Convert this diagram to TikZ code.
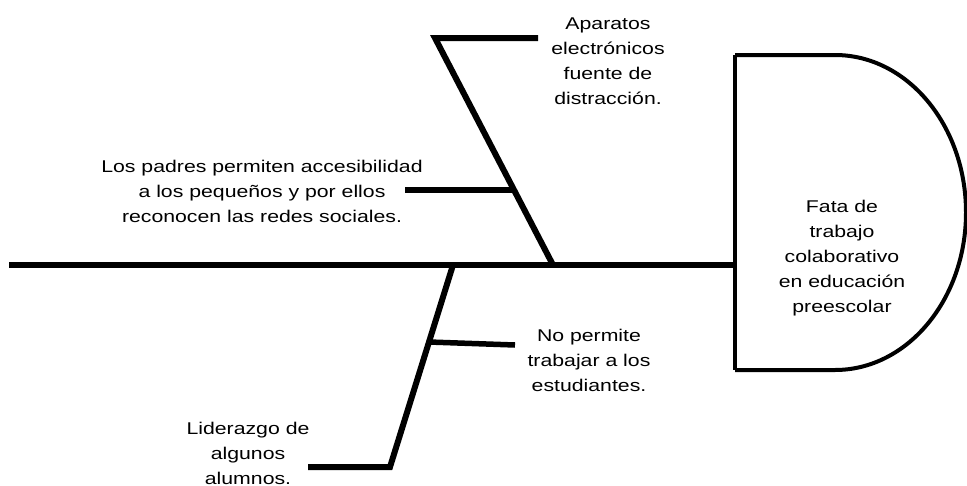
\documentclass[tikz,border=0pt]{standalone}
\usepackage{fontspec}
\setmainfont{Liberation Sans}[FakeStretch=1.25]
\usetikzlibrary{positioning}

\begin{document}
\begin{tikzpicture}[x=1pt, y=-1pt]
\tikzstyle{bone}=[line width=6pt]
\tikzstyle{rib}=[line width=5.5pt]
\tikzstyle{head}=[line width=4pt]
\tikzstyle{cause}=[align=center, inner sep=0pt, font=\fontsize{17}{25}\selectfont]
\useasboundingbox (0,0) rectangle (967,485);
    % spine
    \coordinate (tail) at (9,265);
    \coordinate (neck) at (735,265);
    \coordinate (headtop) at (735,55);
    \coordinate (headbot) at (735,370);
    % upper bone
    \coordinate (upfoot) at (553,265);
    \coordinate (upknee) at (435,38);
    \coordinate (uptip) at (538,38);
    \coordinate (uprib) at (514,190);
    \coordinate (upribend) at (405,190);
    % lower bone
    \coordinate (lofoot) at (453,265);
    \coordinate (loknee) at (390,467);
    \coordinate (lotip) at (308,467);
    \coordinate (lorib) at (429,342);
    \coordinate (loribend) at (515,345);
    \node[cause] (efecto) at (842,258) {Fata de\\trabajo\\colaborativo\\en educación\\preescolar};
    \node[cause] (aparatos) at (608,61) {Aparatos\\electrónicos\\fuente de\\distracción.};
    \node[cause] (padres) at (262,191) {Los padres permiten accesibilidad\\a los pequeños y por ellos\\reconocen las redes sociales.};
    \node[cause] (trabajar) at (589,360) {No permite\\trabajar a los\\estudiantes.};
    \node[cause] (liderazgo) at (248,453) {Liderazgo de\\algunos\\alumnos.};
    \draw[head] (headtop) -- (headbot);
    \draw[head] (headbot) -- ++(100,0) arc[start angle=-90, end angle=90, x radius=131pt, y radius=157.5pt] -- (headtop);
    \draw[bone] (tail) -- (neck);
    \draw[bone] (uptip) -- (upknee) -- (upfoot);
    \draw[bone] (lotip) -- (loknee) -- (lofoot);
    \path (upribend) edge [rib] (uprib)
          (lorib) edge [rib] (loribend);
\end{tikzpicture}
\end{document}
